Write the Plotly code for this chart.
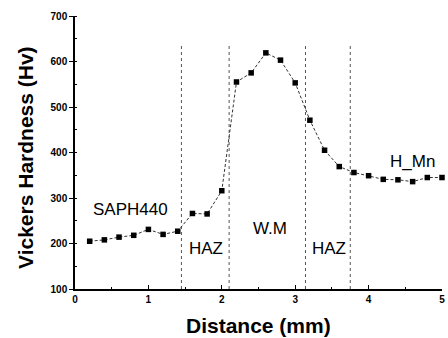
import plotly.graph_objects as go

distance = [0.2, 0.4, 0.6, 0.8, 1.0, 1.2, 1.4, 1.6, 1.8, 2.0, 2.2, 2.4, 2.6, 2.8, 3.0,
            3.2, 3.4, 3.6, 3.8, 4.0, 4.2, 4.4, 4.6, 4.8, 5.0]
hardness = [205, 208, 214, 218, 231, 220, 227, 266, 265, 316, 555, 575, 619, 603, 553,
            471, 405, 369, 356, 349, 341, 340, 336, 345, 345]
boundaries = [1.45, 2.10, 3.14, 3.75]
boundary_top = 634
region_labels = ["SAPH440", "HAZ", "W.M", "HAZ", "H_Mn"]
label_x = [0.75, 1.78, 2.66, 3.46, 4.6]
label_y = [274, 188, 234, 188, 381]

font_family = "Liberation Sans, Arial, sans-serif"

fig = go.Figure()

for bx in boundaries:
    fig.add_trace(go.Scatter(
        x=[bx, bx], y=[100, boundary_top], mode="lines",
        line=dict(color="#555555", width=1, dash="dot"),
        showlegend=False, hoverinfo="skip"))

fig.add_trace(go.Scatter(
    x=distance, y=hardness, mode="lines+markers",
    line=dict(color="#333333", width=1, dash="3px,2px"),
    marker=dict(symbol="square", size=5.5, color="black"),
    showlegend=False, cliponaxis=False))

for t, lx, ly in zip(region_labels, label_x, label_y):
    fig.add_annotation(x=lx, y=ly, text=t, showarrow=False,
                       font=dict(family=font_family, size=17, color="black"))

fig.add_annotation(xref="paper", yref="paper", x=0.5, y=-0.1355,
                   text="<b>Distance (mm)</b>", showarrow=False,
                   xanchor="center", yanchor="middle",
                   font=dict(family=font_family, size=21, color="black"))
fig.add_annotation(xref="paper", yref="paper", x=-0.1335, y=0.48,
                   text="<b>Vickers Hardness (Hv)</b>", showarrow=False, textangle=-90,
                   xanchor="center", yanchor="middle",
                   font=dict(family=font_family, size=21, color="black"))

fig.update_layout(
    width=448, height=338,
    margin=dict(l=75, r=6, t=16, b=49, autoexpand=False),
    paper_bgcolor="white", plot_bgcolor="white",
    font=dict(family=font_family, color="black"),
)
fig.update_xaxes(
    range=[0, 5], tickvals=[0, 1, 2, 3, 4, 5], automargin=False,
    showline=True, linecolor="black", linewidth=1.5,
    ticks="inside", ticklen=4, tickwidth=1, tickcolor="black",
    minor=dict(ticks="inside", ticklen=2, dtick=0.5, tickcolor="black"),
    showgrid=False, zeroline=False,
    tickfont=dict(size=10, family="Liberation Sans, Arial", weight="bold"),
)
fig.update_yaxes(
    range=[100, 700], tickvals=[100, 200, 300, 400, 500, 600, 700], automargin=False,
    showline=True, linecolor="black", linewidth=1.5,
    ticks="outside", ticklen=4, tickwidth=1, tickcolor="black",
    minor=dict(ticks="inside", ticklen=2, dtick=50, tickcolor="black"),
    showgrid=False, zeroline=False,
    tickfont=dict(size=10, family="Liberation Sans, Arial", weight="bold"),
)

fig.write_html("out.html", config={"displayModeBar": False},
               post_script="document.body.style.margin='0';document.body.style.overflow='hidden';")
